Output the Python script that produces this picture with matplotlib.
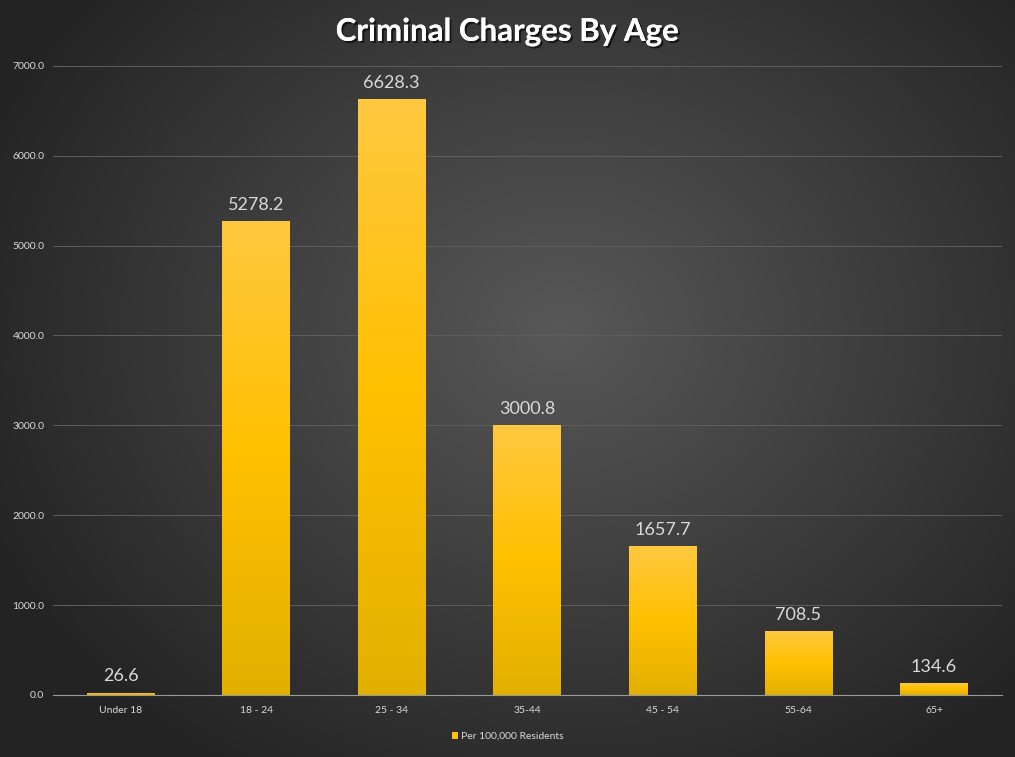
import numpy as np
import matplotlib.pyplot as plt
import matplotlib.patheffects as pe
from matplotlib.patches import Patch

categories = ['Under 18', '18 - 24', '25 - 34', '35-44', '45 - 54', '55-64', '65+']
values = [26.6, 5278.2, 6628.3, 3000.8, 1657.7, 708.5, 134.6]
yticks = [0, 1000, 2000, 3000, 4000, 5000, 6000, 7000]

plt.rcParams['font.family'] = ['Lato', 'DejaVu Sans']

fig = plt.figure(figsize=(10.15, 7.57), dpi=100)

# radial gradient background
bg = fig.add_axes([0, 0, 1, 1], zorder=-10)
yy, xx = np.mgrid[0:757, 0:1015]
r = np.sqrt(((xx - 560) / 620.0) ** 2 + ((yy - 330) / 520.0) ** 2)
r = np.clip(r, 0, 1)
light = np.array([0x58, 0x58, 0x58]) / 255
dark = np.array([0x24, 0x24, 0x24]) / 255
img = light[None, None, :] * (1 - r[..., None]) + dark[None, None, :] * r[..., None]
bg.imshow(img, aspect='auto', extent=[0, 1, 0, 1], origin='upper')
bg.axis('off')

ax = fig.add_axes([0.052, 0.082, 0.935, 0.831])
ax.set_facecolor('none')

x = np.arange(len(categories))
bars = ax.bar(x, values, width=0.5, color='#FFC000', label='Per 100,000 Residents', zorder=3)

# vertical gold gradient inside each bar
grad = np.linspace(0, 1, 256)[:, None]
c_top = np.array([0xFF, 0xC8, 0x40]) / 255
c_mid = np.array([0xFF, 0xC0, 0x00]) / 255
c_bot = np.array([0xE2, 0xB0, 0x00]) / 255
for b in bars:
    x0, w, h = b.get_x(), b.get_width(), b.get_height()
    t = grad
    col = np.where(t < 0.5, c_top + (c_mid - c_top) * (t / 0.5), c_mid + (c_bot - c_mid) * ((t - 0.5) / 0.5))
    col = np.repeat(col[:, None, :], 2, axis=1).reshape(256, 2, 3)
    im = ax.imshow(col, extent=[x0, x0 + w, 0, h], aspect='auto', origin='upper', zorder=4)
    im.set_clip_path(b)
    b.set_facecolor('none')

for xi, v in zip(x, values):
    ax.text(xi, v + 90, f'{v:.1f}', ha='center', va='bottom', fontsize=13, color='#D9D9D9', zorder=5)

ax.set_xlim(-0.5, len(categories) - 0.5)
ax.set_ylim(0, 7000)
ax.set_yticks(yticks)
ax.set_yticklabels([f'{t:.1f}' for t in yticks])
ax.set_xticks(x)
ax.set_xticklabels(categories)
ax.tick_params(axis='both', length=0, colors='#D9D9D9', labelsize=7.5)
ax.tick_params(axis='x', pad=8)
ax.tick_params(axis='y', pad=6)
ax.grid(axis='y', color='#5E5E5E', linewidth=0.7, zorder=0)
for s in ['top', 'right', 'left']:
    ax.spines[s].set_visible(False)
ax.spines['bottom'].set_color('#9A9A9A')
ax.spines['bottom'].set_zorder(6)

fig.text(0.5, 0.958, 'Criminal Charges By Age', ha='center', va='center', fontsize=22.5,
         fontweight='bold', color='white',
         path_effects=[pe.withSimplePatchShadow(offset=(1.5, -1.5), shadow_rgbFace='black', alpha=0.6), pe.Normal()])

handle = Patch(facecolor='#FFC000', edgecolor='none')
fig.legend([handle], ['Per 100,000 Residents'], loc='center', bbox_to_anchor=(0.5, 0.027),
           frameon=False, fontsize=7.5, labelcolor='#D9D9D9', handlelength=0.6, handleheight=0.6,
           handletextpad=0.3)

fig.savefig('out.png', dpi=100)
